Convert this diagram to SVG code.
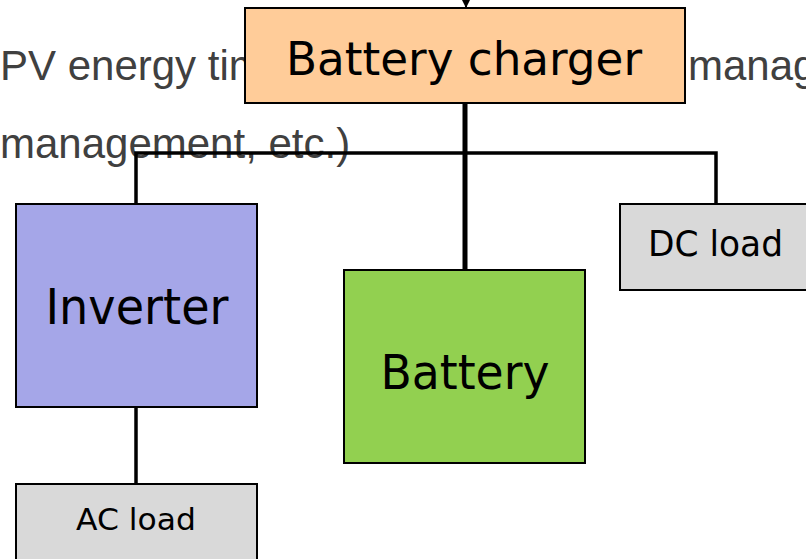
<svg xmlns="http://www.w3.org/2000/svg" width="806" height="559" viewBox="0 0 806 559">
<defs>
<style>
.bg{font-family:"Liberation Sans",Arial,sans-serif;font-size:42px;fill:#404040}
.box{stroke:#000;stroke-width:2}
.lbl{font-family:"DejaVu Sans",sans-serif;fill:#000;text-anchor:middle}
.wire{stroke:#000;stroke-width:3.5;fill:none}
.thick{stroke-width:5}
.thin{stroke-width:2}
</style>
<marker id="arr" markerWidth="8" markerHeight="8" refX="8" refY="4" orient="auto" markerUnits="userSpaceOnUse">
<path d="M0,0 L8,4 L0,8 Z" fill="#000"/>
</marker>
</defs>
<rect width="806" height="559" fill="#fff"/>
<g id="background-text">
<text class="bg" x="0" y="80">PV energy tim</text>
<text class="bg" x="688" y="80">manag</text>
<text class="bg" x="0" y="158">management, etc.)</text>
</g>
<g id="connectors">
<line class="wire thin" x1="466" y1="-30" x2="466" y2="8" marker-end="url(#arr)"/>
<polyline class="wire" points="136,204 136,153 716,153 716,204"/>
<line class="wire thick" x1="465" y1="103" x2="465" y2="270"/>
<line class="wire" x1="136" y1="407" x2="136" y2="484"/>
</g>
<g id="battery-charger">
<rect class="box" x="245" y="8" width="440" height="95" fill="#FFCC99"/>
<text class="lbl" x="464" y="75" font-size="47" textLength="356" lengthAdjust="spacingAndGlyphs">Battery charger</text>
</g>
<g id="inverter">
<rect class="box" x="16" y="204" width="241" height="203" fill="#A5A6E8"/>
<text class="lbl" x="137" y="324" font-size="49" textLength="183" lengthAdjust="spacingAndGlyphs">Inverter</text>
</g>
<g id="battery">
<rect class="box" x="344" y="270" width="241" height="193" fill="#92D050"/>
<text class="lbl" x="465" y="389" font-size="48" textLength="169" lengthAdjust="spacingAndGlyphs">Battery</text>
</g>
<g id="dc-load">
<rect class="box" x="620" y="204" width="200" height="86" fill="#D9D9D9"/>
<text class="lbl" x="715.5" y="256" font-size="35" textLength="135" lengthAdjust="spacingAndGlyphs">DC load</text>
</g>
<g id="ac-load">
<rect class="box" x="16" y="484" width="241" height="90" fill="#D9D9D9"/>
<text class="lbl" x="136" y="530" font-size="30" textLength="120" lengthAdjust="spacingAndGlyphs">AC load</text>
</g>
</svg>
